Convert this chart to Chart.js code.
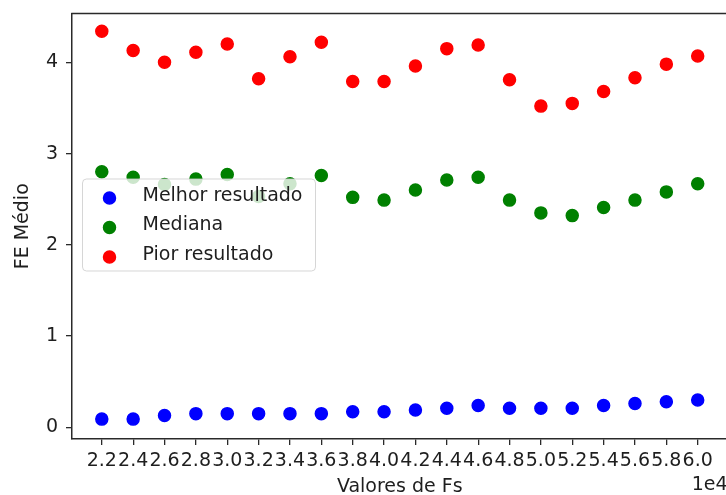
<!DOCTYPE html>
<html>
<head>
<meta charset="utf-8">
<title>FE Médio por Fs</title>
<script src="https://cdn.jsdelivr.net/npm/chart.js@4.4.1/dist/chart.umd.min.js"></script>
<style>
  html, body { margin: 0; padding: 0; background: #ffffff; overflow: hidden; }
  #wrap { width: 735px; height: 495px; }
</style>
</head>
<body>
<div id="wrap"><canvas id="chart" width="735" height="495"></canvas></div>
<script>
// Fs values tested
const fsValues = [22000, 24000, 26000, 28000, 30000, 32000, 34000, 36000, 38000, 40000,
                  42000, 44000, 46000, 48000, 50000, 52000, 54000, 56000, 58000, 60000];

// Mean FE for each result group
const melhorResultado = [0.09, 0.09, 0.13, 0.15, 0.15, 0.15, 0.15, 0.15, 0.17, 0.17,
                         0.19, 0.21, 0.24, 0.21, 0.21, 0.21, 0.24, 0.26, 0.28, 0.30];
const mediana = [2.80, 2.74, 2.66, 2.72, 2.77, 2.53, 2.67, 2.76, 2.52, 2.49,
                 2.60, 2.71, 2.74, 2.49, 2.35, 2.32, 2.41, 2.49, 2.58, 2.67];
const piorResultado = [4.34, 4.13, 4.00, 4.11, 4.20, 3.82, 4.06, 4.22, 3.79, 3.79,
                       3.96, 4.15, 4.19, 3.81, 3.52, 3.55, 3.68, 3.83, 3.98, 4.07];

const yTickValues = [0, 1, 2, 3, 4];
const seriesLabels = ['Melhor resultado', 'Mediana', 'Pior resultado'];
const seriesColors = ['#0000ff', '#008000', '#ff0000'];
const offsetLabel = '1e4';

const FONT = 'DejaVu Sans';
const TEXT = '#1e1e1e';
const AXIS = '#2a2a2a';
const POINT_R = 6;
const POINT_BW = 1.5;

Chart.defaults.font.family = FONT;
Chart.defaults.font.size = 19;
Chart.defaults.color = TEXT;

const toPoints = vals => fsValues.map((x, i) => ({ x: x, y: vals[i] }));

// top edge of the frame, the x offset label and the boxed legend
const frameAndLegend = {
  id: 'frameAndLegend',
  afterDraw(chart) {
    const { ctx, chartArea } = chart;
    ctx.save();
    ctx.strokeStyle = AXIS;
    ctx.lineWidth = 1.5;
    ctx.beginPath();
    ctx.moveTo(chartArea.left - 0.75, chartArea.top);
    ctx.lineTo(chartArea.right, chartArea.top);
    ctx.stroke();

    ctx.fillStyle = TEXT;
    ctx.font = '19px "' + FONT + '"';
    ctx.textAlign = 'right';
    ctx.textBaseline = 'alphabetic';
    ctx.fillText(offsetLabel, chartArea.right, 489.5);

    // legend box (center left)
    const bx = 82.5, by = 179, bw = 233, bh = 92, r = 4;
    ctx.beginPath();
    ctx.moveTo(bx + r, by);
    ctx.arcTo(bx + bw, by, bx + bw, by + bh, r);
    ctx.arcTo(bx + bw, by + bh, bx, by + bh, r);
    ctx.arcTo(bx, by + bh, bx, by, r);
    ctx.arcTo(bx, by, bx + bw, by, r);
    ctx.closePath();
    ctx.fillStyle = 'rgba(255,255,255,0.8)';
    ctx.fill();
    ctx.strokeStyle = 'rgba(204,204,204,0.8)';
    ctx.lineWidth = 1;
    ctx.stroke();

    const rowY = [198, 227.5, 257];
    ctx.textAlign = 'left';
    chart.data.datasets.forEach((ds, i) => {
      ctx.beginPath();
      ctx.arc(109.5, rowY[i], POINT_R, 0, Math.PI * 2);
      ctx.fillStyle = ds.backgroundColor;
      ctx.fill();
      ctx.lineWidth = POINT_BW;
      ctx.strokeStyle = ds.borderColor;
      ctx.stroke();
      ctx.fillStyle = TEXT;
      ctx.fillText(ds.label, 142.5, rowY[i] + 2.5);
    });
    ctx.restore();
  }
};

const seriesValues = [melhorResultado, mediana, piorResultado];

new Chart(document.getElementById('chart'), {
  type: 'scatter',
  data: {
    datasets: seriesValues.map((vals, i) => ({
      label: seriesLabels[i],
      data: toPoints(vals),
      backgroundColor: seriesColors[i],
      borderColor: seriesColors[i],
      borderWidth: POINT_BW,
      pointRadius: POINT_R,
      pointHoverRadius: POINT_R
    }))
  },
  options: {
    responsive: false,
    devicePixelRatio: 1,
    animation: false,
    layout: { padding: { top: 13.5, right: 6, left: 0, bottom: 0 } },
    plugins: {
      legend: { display: false },
      tooltip: { enabled: false }
    },
    scales: {
      x: {
        type: 'linear',
        min: 20100,
        max: 61900,
        afterBuildTicks(scale) { scale.ticks = fsValues.map(v => ({ value: v })); },
        afterFit(scale) {
          scale.height = 56;
          scale.paddingLeft = 0;
          scale.paddingRight = 0;
        },
        grid: { display: true, drawOnChartArea: false, drawTicks: true, tickLength: 6, color: AXIS, lineWidth: 1.3 },
        border: { display: true, color: AXIS, width: 1.5 },
        ticks: {
          autoSkip: false,
          maxRotation: 0,
          minRotation: 0,
          padding: 5,
          color: TEXT,
          callback: v => (v / 1e4).toFixed(1)
        },
        title: {
          display: true,
          text: 'Valores de Fs',
          color: TEXT,
          font: { size: 19 },
          padding: { top: 0, bottom: -3.4 }
        }
      },
      y: {
        type: 'linear',
        min: -0.128,
        max: 4.535,
        afterBuildTicks(scale) { scale.ticks = yTickValues.map(v => ({ value: v })); },
        afterFit(scale) {
          scale.width = 72;
          scale.paddingTop = 0;
          scale.paddingBottom = 0;
        },
        grid: { display: true, drawOnChartArea: false, drawTicks: true, tickLength: 6, color: AXIS, lineWidth: 1.3 },
        border: { display: true, color: AXIS, width: 1.5 },
        ticks: {
          padding: 8,
          color: TEXT,
          callback: v => String(v)
        },
        title: {
          display: true,
          text: 'FE Médio',
          color: TEXT,
          font: { size: 19 },
          padding: { top: 11.6, bottom: 0 }
        }
      }
    }
  },
  plugins: [frameAndLegend]
});
</script>
</body>
</html>
